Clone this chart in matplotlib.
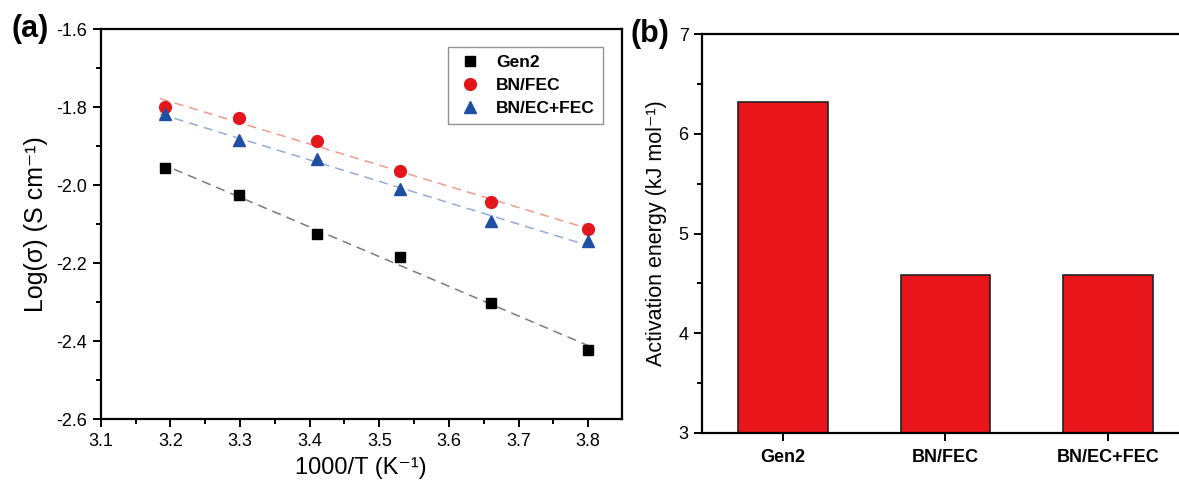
import numpy as np
import matplotlib
matplotlib.use("Agg")
import matplotlib.pyplot as plt
from matplotlib.ticker import MultipleLocator

plt.rcParams["font.family"] = ["Liberation Sans", "DejaVu Sans"]
plt.rcParams["axes.unicode_minus"] = False

# (a) Arrhenius data
inv_t = [3.193, 3.298, 3.410, 3.530, 3.660, 3.800]
log_gen2 = [-1.957, -2.026, -2.124, -2.184, -2.301, -2.423]
log_bn_fec = [-1.799, -1.827, -1.888, -1.963, -2.044, -2.112]
log_bn_ecfec = [-1.818, -1.883, -1.934, -2.011, -2.092, -2.143]

# (b) activation energy
electrolytes = ["Gen2", "BN/FEC", "BN/EC+FEC"]
ea = [6.32, 4.58, 4.58]

fig = plt.figure(figsize=(11.79, 4.82), dpi=100)

ax1 = fig.add_axes([0.0854, 0.1297, 0.4419, 0.8101])
series = [
    ("Gen2", log_gen2, "s", "black", "#7a7a7a", 7.5),
    ("BN/FEC", log_bn_fec, "o", "#e3161b", "#f29a8c", 8.5),
    ("BN/EC+FEC", log_bn_ecfec, "^", "#1f4fa3", "#92acd6", 9),
]
xfit = np.array([3.185, 3.805])
for name, ys, mk, col, fitcol, ms in series:
    k, b = np.polyfit(inv_t, ys, 1)
    ax1.plot(xfit, k * xfit + b, ls=(0, (6, 4)), color=fitcol, lw=1.1, zorder=1)
    ax1.plot(inv_t, ys, ls="none", marker=mk, color=col, ms=ms, label=name, zorder=3)

ax1.set_xlim(3.1, 3.848)
ax1.set_ylim(-2.6, -1.6)
ax1.xaxis.set_minor_locator(MultipleLocator(0.05))
ax1.yaxis.set_major_locator(MultipleLocator(0.2))
ax1.yaxis.set_minor_locator(MultipleLocator(0.1))
ax1.set_xticks([3.1, 3.2, 3.3, 3.4, 3.5, 3.6, 3.7, 3.8])
ax1.set_xticklabels(["3.1", "3.2", "3.3", "3.4", "3.5", "3.6", "3.7", "3.8"])
ax1.tick_params(which="major", direction="out", length=6, width=1.4, labelsize=13)
ax1.tick_params(which="minor", direction="out", length=3.5, width=1.4)
for s in ax1.spines.values():
    s.set_linewidth(1.6)
ax1.set_xlabel("1000/T (K\u207b\u00b9)", fontsize=17, labelpad=5)
ax1.set_ylabel("Log(\u03c3) (S cm\u207b\u00b9)", fontsize=18, labelpad=6)
leg = ax1.legend(loc="upper right", bbox_to_anchor=(0.98, 0.975), fancybox=False,
                 edgecolor="#777777", prop={"weight": "bold", "size": 12.5},
                 handletextpad=0.7, borderpad=0.45, labelspacing=0.45, handlelength=1.6)
leg.get_frame().set_linewidth(1.0)

ax2 = fig.add_axes([0.5952, 0.1023, 0.4135, 0.8265])
pos = np.arange(1, len(electrolytes) + 1)
ax2.bar(pos, ea, width=0.55, color="#e8161b", edgecolor="#222222", linewidth=1.2, zorder=2)
ax2.set_xlim(0.5, 3.5)
ax2.set_ylim(3, 7)
ax2.set_xticks(pos)
ax2.set_xticklabels(electrolytes, fontweight="bold", fontsize=15)
ax2.yaxis.set_major_locator(MultipleLocator(1))
ax2.yaxis.set_minor_locator(MultipleLocator(0.5))
ax2.tick_params(which="major", direction="out", length=6, width=1.4, labelsize=13)
ax2.tick_params(which="minor", direction="out", length=3.5, width=1.4)
ax2.tick_params(axis="x", pad=6)
for s in ax2.spines.values():
    s.set_linewidth(1.6)
ax2.set_ylabel("Activation energy (kJ mol\u207b\u00b9)", fontsize=15.5, labelpad=8)

fig.text(0.01, 0.94, "(a)", fontsize=22, fontweight="bold", va="center", ha="left")
fig.text(0.535, 0.93, "(b)", fontsize=22, fontweight="bold", va="center", ha="left")

fig.savefig("out.png", dpi=100)
